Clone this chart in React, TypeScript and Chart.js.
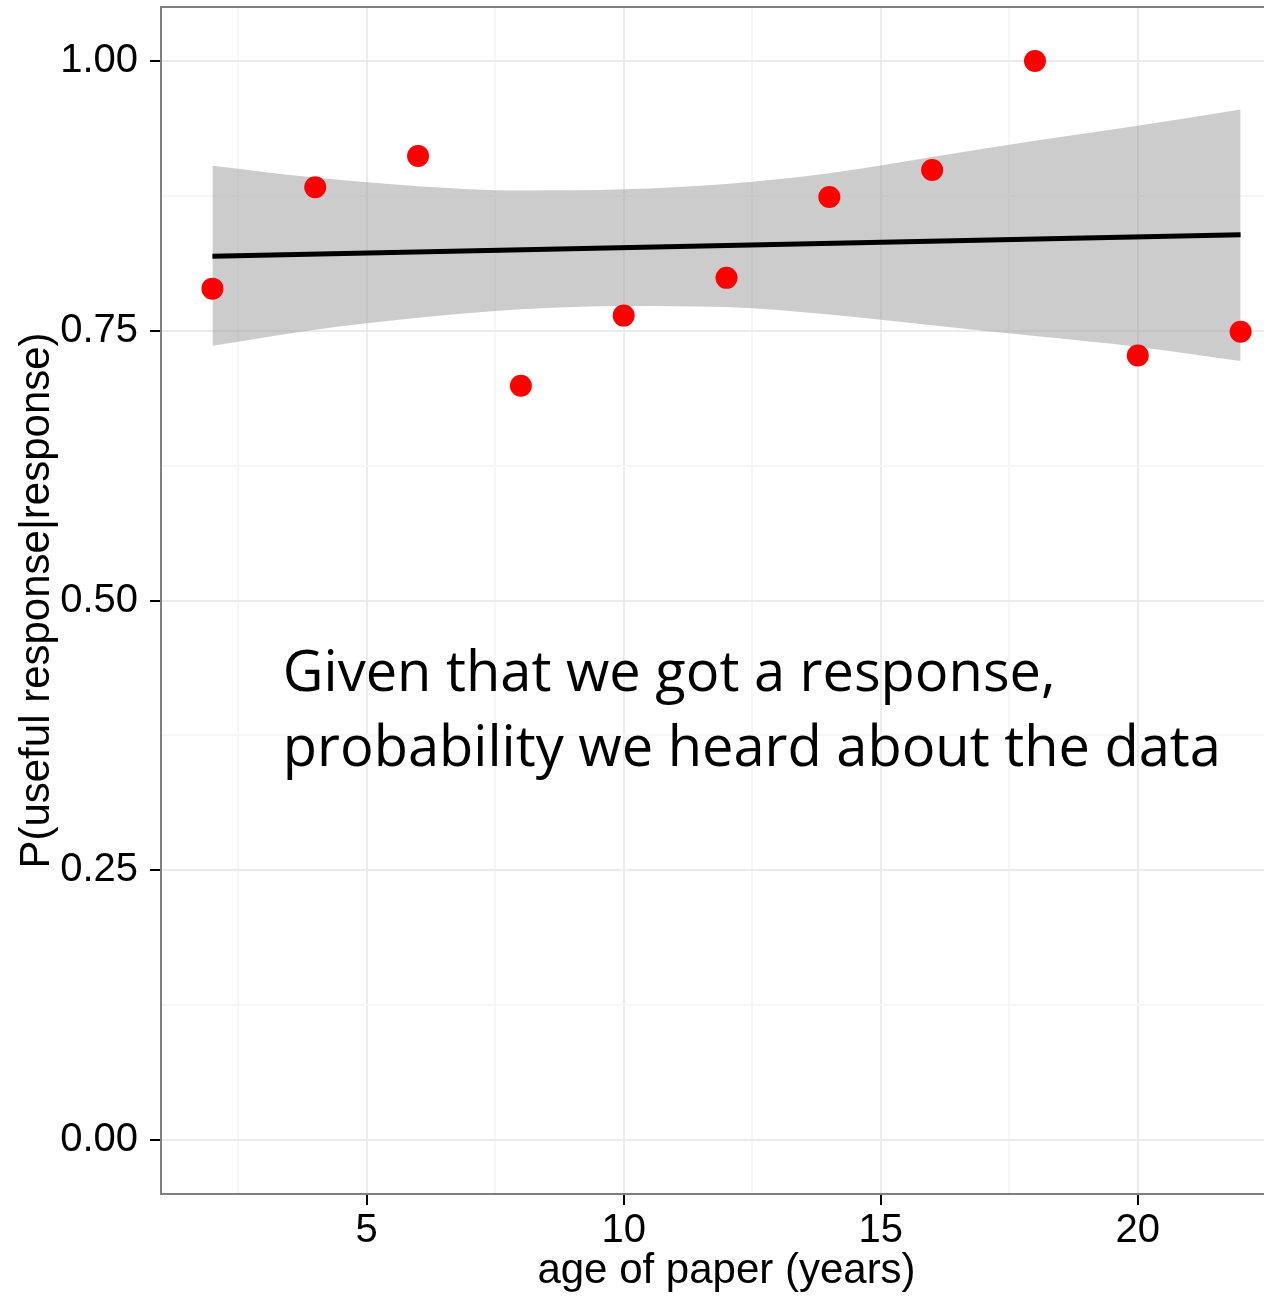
import React, { useEffect, useRef } from "react";
import { Chart, registerables } from "chart.js";

Chart.register(...registerables);

// ---- data ----
const ageYears = [2, 4, 6, 8, 10, 12, 14, 16, 18, 20, 22];
const pUseful = [0.789, 0.883, 0.912, 0.699, 0.764, 0.799, 0.874, 0.899, 1.0, 0.727, 0.749];

const fitAge = [2, 12, 22];
const fitP = [0.819, 0.829, 0.839];

const bandAge = [2, 4, 6, 8, 10, 12, 14, 16, 18, 20, 22];
const bandUpper = [0.903, 0.892, 0.884, 0.880, 0.881, 0.886, 0.896, 0.911, 0.926, 0.940, 0.955];
const bandLower = [0.736, 0.751, 0.762, 0.770, 0.773, 0.772, 0.765, 0.755, 0.745, 0.735, 0.722];

const xMajorTicks = [5, 10, 15, 20];
const xMinorTicks = [2.5, 7.5, 12.5, 17.5, 22.5];
const yMajorTicks = [0, 0.25, 0.5, 0.75, 1.0];
const yMinorTicks = [0.125, 0.375, 0.625, 0.875];

const xTitle = "age of paper (years)";
const yTitle = "P(useful response|response)";
const noteLines = ["Given that we got a response,", "probability we heard about the data"];
const noteAnchor = { x: 3.37, y: 0.416 };

const isMajor = (arr: number[], v: number) => arr.some((m) => Math.abs(m - v) < 1e-9);

export default function App() {
  const ref = useRef<HTMLCanvasElement | null>(null);

  useEffect(() => {
    if (!ref.current) return;

    const panelPlugin = {
      id: "panelAndNote",
      afterDatasetsDraw(chart: any) {
        const { ctx, chartArea, scales } = chart;
        ctx.save();
        // annotation
        ctx.fillStyle = "#000000";
        ctx.font = "56px 'Open Sans'";
        ctx.textAlign = "left";
        ctx.textBaseline = "alphabetic";
        const px = scales.x.getPixelForValue(noteAnchor.x);
        const py = scales.y.getPixelForValue(noteAnchor.y);
        noteLines.forEach((line, i) => ctx.fillText(line, px, py + i * 75));
        // panel border
        ctx.strokeStyle = "#7f7f7f";
        ctx.lineWidth = 2;
        ctx.strokeRect(chartArea.left, chartArea.top, chartArea.right - chartArea.left, chartArea.bottom - chartArea.top);
        ctx.restore();
      },
    };

    const chart = new Chart(ref.current, {
      type: "scatter",
      data: {
        datasets: [
          {
            label: "observed",
            data: ageYears.map((x, i) => ({ x, y: pUseful[i] })),
            backgroundColor: "#ff0000",
            borderColor: "#ff0000",
            pointRadius: 11,
            pointBorderWidth: 0,
          },
          {
            label: "fit",
            data: fitAge.map((x, i) => ({ x, y: fitP[i] })),
            showLine: true,
            borderColor: "#000000",
            borderWidth: 5,
            pointRadius: 0,
          },
          {
            label: "upper",
            data: bandAge.map((x, i) => ({ x, y: bandUpper[i] })),
            showLine: true,
            borderWidth: 0,
            borderColor: "rgba(0,0,0,0)",
            backgroundColor: "rgba(153,153,153,0.5)",
            pointRadius: 0,
            fill: "+1",
            cubicInterpolationMode: "monotone",
          },
          {
            label: "lower",
            data: bandAge.map((x, i) => ({ x, y: bandLower[i] })),
            showLine: true,
            borderWidth: 0,
            borderColor: "rgba(0,0,0,0)",
            pointRadius: 0,
            fill: false,
            cubicInterpolationMode: "monotone",
          },
        ],
      },
      options: {
        animation: false,
        responsive: false,
        devicePixelRatio: 1,
        layout: { autoPadding: false, padding: { top: 7, right: 8, left: 0, bottom: 0 } },
        plugins: {
          legend: { display: false },
          tooltip: { enabled: false },
        },
        scales: {
          x: {
            type: "linear",
            min: 1,
            max: 23,
            afterFit: (axis: any) => {
              axis.height = 103;
              axis.paddingLeft = 0;
              axis.paddingRight = 0;
            },
            afterBuildTicks: (axis: any) => {
              axis.ticks = [...xMinorTicks, ...xMajorTicks].sort((a, b) => a - b).map((v) => ({ value: v }));
            },
            border: { display: false },
            grid: {
              color: (c: any) => (isMajor(xMajorTicks, c.tick?.value) ? "#ebebeb" : "#f6f6f6"),
              lineWidth: 2,
              tickColor: (c: any) => (isMajor(xMajorTicks, c.tick?.value) ? "#000000" : "rgba(0,0,0,0)"),
              tickLength: 11,
              tickWidth: 2,
            },
            ticks: {
              autoSkip: false,
              maxRotation: 0,
              padding: 2,
              color: "#000000",
              font: { family: "'Liberation Sans', Arial, sans-serif", size: 40 },
              callback: (v: any) => (isMajor(xMajorTicks, Number(v)) ? String(v) : ""),
            },
            title: {
              display: true,
              text: xTitle,
              color: "#000000",
              font: { family: "'Liberation Sans', Arial, sans-serif", size: 42 },
              padding: { top: 0, bottom: 0 },
            },
          },
          y: {
            type: "linear",
            min: -0.05,
            max: 1.05,
            afterFit: (axis: any) => {
              axis.width = 161;
              axis.paddingTop = 0;
              axis.paddingBottom = 0;
            },
            afterBuildTicks: (axis: any) => {
              axis.ticks = [...yMajorTicks, ...yMinorTicks].sort((a, b) => a - b).map((v) => ({ value: v }));
            },
            border: { display: false },
            grid: {
              color: (c: any) => (isMajor(yMajorTicks, c.tick?.value) ? "#ebebeb" : "#f6f6f6"),
              lineWidth: 2,
              tickColor: (c: any) => (isMajor(yMajorTicks, c.tick?.value) ? "#000000" : "rgba(0,0,0,0)"),
              tickLength: 11,
              tickWidth: 2,
            },
            ticks: {
              autoSkip: false,
              padding: 12,
              color: "#000000",
              font: { family: "'Liberation Sans', Arial, sans-serif", size: 40 },
              callback: (v: any) => (isMajor(yMajorTicks, Number(v)) ? Number(v).toFixed(2) : ""),
            },
            title: {
              display: true,
              text: yTitle,
              color: "#000000",
              font: { family: "'Liberation Sans', Arial, sans-serif", size: 42 },
              padding: { top: 12, bottom: 0 },
            },
          },
        },
      },
      plugins: [panelPlugin],
    } as any);

    const fonts = (document as any).fonts;
    if (fonts && fonts.load) {
      Promise.all([fonts.load("56px 'Open Sans'"), fonts.load("40px 'Liberation Sans'")])
        .then(() => chart.update())
        .catch(() => {});
    }

    return () => chart.destroy();
  }, []);

  return (
    <div style={{ position: "fixed", left: 0, top: 0, width: 1264, height: 1297, overflow: "hidden", background: "#fff" }}>
      <canvas ref={ref} width={1300} height={1297} style={{ display: "block", width: 1300, height: 1297 }} />
    </div>
  );
}
